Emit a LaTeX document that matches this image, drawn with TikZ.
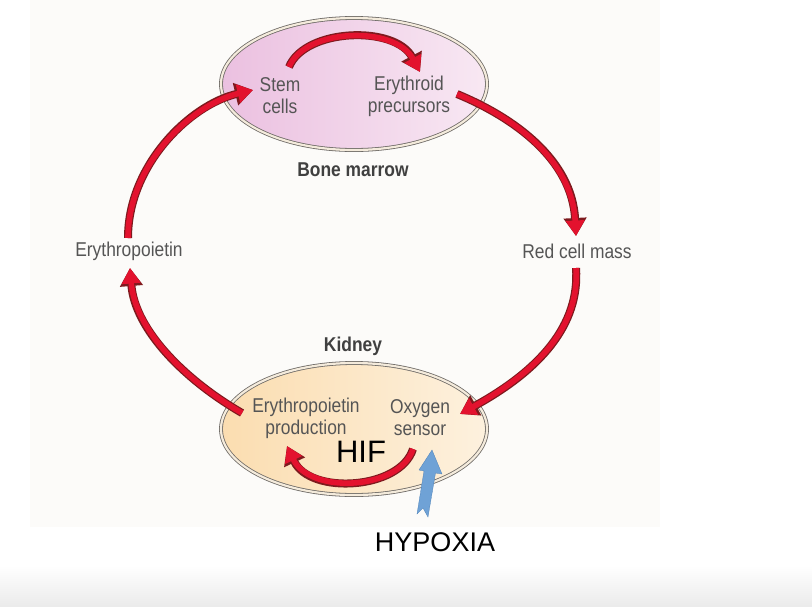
\documentclass[tikz,border=0pt]{standalone}
\usepackage{fontspec}
\setmainfont{Liberation Sans}
\newfontfamily\narrowfont[FakeStretch=0.87]{Liberation Sans}
\usetikzlibrary{arrows.meta,shapes.geometric,shadings}
\definecolor{bgpanel}{HTML}{FCFBF9}
\definecolor{arrowred}{HTML}{E3122E}
\definecolor{arrowdark}{HTML}{7E1A1E}
\definecolor{labelgray}{HTML}{555555}
\definecolor{rimdark}{HTML}{6E6A66}
\definecolor{rimlight}{HTML}{F4EBDC}
\definecolor{pinkA}{HTML}{EBC0E0}
\definecolor{pinkB}{HTML}{F8E8F3}
\definecolor{peachA}{HTML}{FBDDB0}
\definecolor{peachB}{HTML}{FDF1DE}
\definecolor{hypblue}{HTML}{6FA2D6}
\definecolor{hypbluedark}{HTML}{4E82B8}
\tikzset{
  organ/.style={ellipse, minimum width=266pt, minimum height=132pt, inner sep=0pt,
    draw=rimdark, line width=0.8pt, double=rimlight, double distance=2.2pt},
  lbl/.style={font=\narrowfont\fontsize{20}{22}\selectfont, text=labelgray, align=center, inner sep=1pt},
  redarrow/.style={line cap=butt,
    preaction={draw=arrowdark, line width=8pt, -{Triangle[length=18pt,width=22pt]}},
    draw=arrowred, line width=5.6pt, -{Triangle[length=15.5pt,width=18pt]}},
}
\begin{document}
\begin{tikzpicture}[x=1pt,y=-1pt]
\useasboundingbox (0,0) rectangle (812,606);
\fill[white] (0,0) rectangle (812,606);
\shade[top color=white, bottom color=black!8] (0,566) rectangle (812,606);
\fill[bgpanel] (30,0) rectangle (660,527);

% organs
\node[organ, left color=pinkA, right color=pinkB] (marrow) at (354,84) {};
\node[organ, left color=peachA, right color=peachB] (kidney) at (354,429) {};

% labels
\node[lbl] (stem) at (280,96) {Stem\\cells};
\node[lbl] (precursors) at (409,96) {Erythroid\\precursors};
\node[lbl, text=black!75] (bm) at (353,170) {\bfseries Bone marrow};
\node[lbl] (rcm) at (577,251) {Red cell mass};
\node[lbl] (epo) at (129,251) {Erythropoietin};
\node[lbl, text=black!75] (kid) at (353,346) {\bfseries Kidney};
\node[lbl] (epoprod) at (306,418) {Erythropoietin\\production};
\node[lbl] (o2) at (420,418) {Oxygen\\sensor};
\node[font=\fontsize{31}{31}\selectfont, inner sep=0pt] (hif) at (361,452) {HIF};
\node[font=\fontsize{27}{27}\selectfont, inner sep=0pt] (hyp) at (435,542) {HYPOXIA};

% arrow end points
\coordinate (a1s) at (289,67);
\coordinate (a1e) at (420,72);
\coordinate (a2s) at (457,94);
\coordinate (a2e) at (576,236);
\coordinate (a3s) at (576,268);
\coordinate (a3e) at (460,414);
\coordinate (a4s) at (413,449);
\coordinate (a4e) at (287,446);
\coordinate (a5s) at (242,413);
\coordinate (a5e) at (130,268);
\coordinate (a6s) at (128,238);
\coordinate (a6e) at (253,90);

\draw[redarrow] (a1s) .. controls (305,28) and (395,25) .. (a1e);
\draw[redarrow] (a2s) .. controls (515,118) and (572,160) .. (a2e);
\draw[redarrow] (a3s) .. controls (580,325) and (540,370) .. (a3e);
\draw[redarrow] (a4s) .. controls (400,490) and (310,495) .. (a4e);
\draw[redarrow] (a5s) .. controls (185,380) and (135,330) .. (a5e);
\draw[redarrow] (a6s) .. controls (128,165) and (190,105) .. (a6e);

% hypoxia arrow
\coordinate (hb) at (422,515);
\coordinate (ht) at (432,450);
\fill[hypblue, draw=hypbluedark, line width=0.3pt]
  (ht) -- (442,474) -- (435.5,473) -- (428,517) -- (423,508) -- (417,514) -- (424,471) -- (419,470) -- cycle;
\end{tikzpicture}
\end{document}
